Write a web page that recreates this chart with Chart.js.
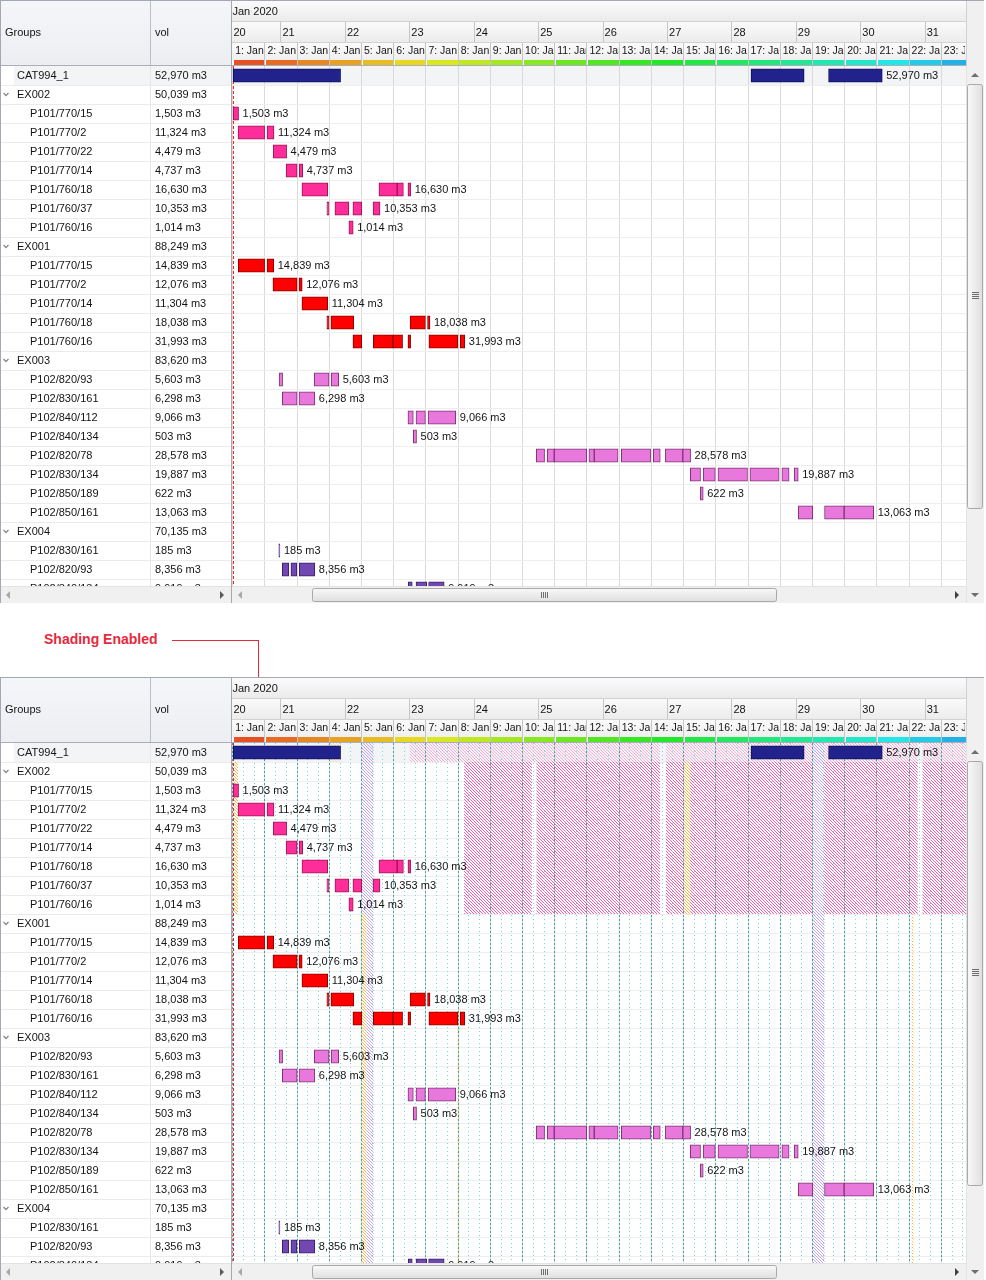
<!DOCTYPE html>
<html>
<head>
<meta charset="utf-8">
<script src="https://cdn.jsdelivr.net/npm/chart.js@4.4.1/dist/chart.umd.min.js"></script>
<style>
  body { margin: 0; background: #fff; }
  #page { position: relative; width: 986px; height: 1280px; overflow: hidden; }
  canvas { position: absolute; left: 0; }
  #note { position: absolute; left: 44px; top: 631px; font: bold 14px "Liberation Sans", Arial, sans-serif; color: #e8283c; }
  .ln { position: absolute; background: #e8283c; }
</style>
</head>
<body>
<div id="page">
  <canvas id="ganttTop" width="986" height="603" style="top:0"></canvas>
  <div id="note">Shading Enabled</div>
  <div class="ln" style="left:172px; top:640px; width:87px; height:1px"></div>
  <div class="ln" style="left:258px; top:640px; width:1px; height:37px"></div>
  <canvas id="ganttBottom" width="986" height="603" style="top:677px"></canvas>
</div>
<script>
// rows of the grid (top to bottom)
const rowNames = ['CAT994_1', 'EX002', 'P101/770/15', 'P101/770/2', 'P101/770/22', 'P101/770/14',
  'P101/760/18', 'P101/760/37', 'P101/760/16', 'EX001', 'P101/770/15', 'P101/770/2', 'P101/770/14',
  'P101/760/18', 'P101/760/16', 'EX003', 'P102/820/93', 'P102/830/161', 'P102/840/112', 'P102/840/134',
  'P102/820/78', 'P102/830/134', 'P102/850/189', 'P102/850/161', 'EX004', 'P102/830/161', 'P102/820/93',
  'P102/840/134'];
const rowVolumes = [52970, 50039, 1503, 11324, 4479, 4737, 16630, 10353, 1014, 88249, 14839, 12076, 11304,
  18038, 31993, 83620, 5603, 6298, 9066, 503, 28578, 19887, 622, 13063, 70135, 185, 8356, 9919];
const groupRows = ['EX002', 'EX001', 'EX003', 'EX004'];

// time header (hours after Jan 20 00:00)
const monthLabel = 'Jan 2020';
const dayLabels = ['20', '21', '22', '23', '24', '25', '26', '27', '28', '29', '30', '31'];
const dayStarts = [0, 24, 48, 72, 96, 120, 144, 168, 192, 216, 240, 264];
const shiftLabels = ['1: Jan 20', '2: Jan 20', '3: Jan 21', '4: Jan 21', '5: Jan 22', '6: Jan 22', '7: Jan 23',
  '8: Jan 23', '9: Jan 24', '10: Jan 24', '11: Jan 25', '12: Jan 25', '13: Jan 26', '14: Jan 26', '15: Jan 27',
  '16: Jan 27', '17: Jan 28', '18: Jan 28', '19: Jan 29', '20: Jan 29', '21: Jan 30', '22: Jan 30', '23: Jan 31'];
const shiftStarts = [6, 18, 30, 42, 54, 66, 78, 90, 102, 114, 126, 138, 150, 162, 174, 186, 198, 210, 222, 234, 246, 258, 270];
const viewFrom = 5.75, viewTo = 279.2;
const nowHour = 6.3;

// bar segments: [row, fromHour, toHour]
const catSegments = [[0, 6.2, 46.2], [0, 199.1, 218.9], [0, 228.0, 248.0]];
const ex002Segments = [
  [2, 6.2, 8.2],
  [3, 8.0, 17.9], [3, 18.8, 21.4],
  [4, 21.1, 26.1],
  [5, 25.9, 30.0], [5, 30.8, 32.1],
  [6, 31.8, 41.4], [6, 60.5, 67.3], [6, 67.3, 69.6], [6, 71.3, 72.3],
  [7, 41.1, 41.9], [7, 44.1, 49.3], [7, 50.8, 54.1], [7, 58.3, 60.9],
  [8, 49.3, 50.9]
];
const ex001Segments = [
  [10, 8.1, 17.9], [10, 18.8, 21.3],
  [11, 21.0, 30.0], [11, 30.7, 31.9],
  [12, 31.8, 41.4],
  [13, 41.1, 41.9], [13, 42.6, 51.1], [13, 72.1, 77.8], [13, 78.6, 79.5],
  [14, 50.8, 54.1], [14, 58.4, 65.7], [14, 65.7, 69.3], [14, 71.3, 72.3], [14, 79.1, 89.9], [14, 90.8, 92.5]
];
const ex003Segments = [
  [16, 23.3, 24.6], [16, 36.4, 41.9], [16, 42.7, 45.5],
  [17, 24.5, 30.0], [17, 30.7, 36.6],
  [18, 71.3, 73.3], [18, 74.3, 77.8], [18, 78.8, 89.1],
  [19, 73.3, 74.5],
  [20, 119.1, 122.2], [20, 123.2, 125.8], [20, 125.8, 137.9], [20, 138.7, 140.7], [20, 140.7, 149.6],
  [20, 150.8, 161.7], [20, 162.7, 165.3], [20, 167.2, 173.7], [20, 173.7, 176.6],
  [21, 176.5, 180.3], [21, 181.3, 185.8], [21, 186.8, 197.8], [21, 198.7, 209.6], [21, 210.6, 213.3], [21, 215.2, 216.7],
  [22, 180.2, 181.3],
  [23, 216.7, 222.1], [23, 226.5, 233.8], [23, 233.8, 244.8]
];
const ex004Segments = [
  [25, 23.2, 23.6],
  [26, 24.5, 26.9], [26, 27.7, 29.9], [26, 30.8, 36.6],
  [27, 71.4, 72.9], [27, 74.3, 78.3], [27, 79.0, 84.8]
];

// shading (lower chart): [fromHour, toHour, firstRow, lastRow]
const offTime = [
  [71.9, 165.2, 0, 0], [167.4, 222.1, 0, 0], [226.0, 261.2, 0, 0], [263.0, 280, 0, 0],
  [92.2, 117.5, 1, 8], [119.2, 165.2, 1, 8], [167.4, 174.1, 1, 8], [176.4, 222.1, 1, 8],
  [226.0, 261.2, 1, 8], [263.0, 280, 1, 8]
];
const breakTime = [[53.9, 58.5, 0, 8], [55.8, 58.5, 9, 27], [222.1, 226.5, 0, 27]];
const overTime = [[6.4, 8.0, 1, 8], [41.6, 46.4, 0, 0], [53.9, 55.8, 9, 27], [174.1, 176.4, 1, 8],
  [89.8, 90.4, 14, 27], [259.0, 259.6, 9, 27]];

const FONT = '11px "Liberation Sans", Arial, sans-serif';
const SMALL = '10.5px "Liberation Sans", Arial, sans-serif';
const fmtVol = v => v.toLocaleString('en-US') + ' m3';
const toPoints = segs => segs.map(([row, from, to]) => ({ y: row, x: [from, to] }));

function hline(ctx, x0, x1, y, c) { ctx.strokeStyle = c; ctx.beginPath(); ctx.moveTo(x0, y); ctx.lineTo(x1, y); ctx.stroke(); }
function vline(ctx, x, y0, y1, c) { ctx.strokeStyle = c; ctx.beginPath(); ctx.moveTo(x, y0); ctx.lineTo(x, y1); ctx.stroke(); }
const al = p => Math.round(p - 0.5) + 0.5;

function hatch(color) {
  const c = document.createElement('canvas');
  c.width = 3; c.height = 3;
  const g = c.getContext('2d');
  g.fillStyle = color;
  for (let i = 0; i < 3; i++) g.fillRect(i, i, 1, 1);
  return c;
}

function band(ctx, x0, x1, y0, y1, c0, c1) {
  const g = ctx.createLinearGradient(0, y0, 0, y1);
  g.addColorStop(0, c0); g.addColorStop(1, c1);
  ctx.fillStyle = g;
  ctx.fillRect(x0, y0, x1 - x0, y1 - y0);
}

function arrow(ctx, cx, cy, dir, color) {
  ctx.fillStyle = color;
  ctx.beginPath();
  if (dir === 'left') { ctx.moveTo(cx + 2, cy - 4); ctx.lineTo(cx + 2, cy + 4); ctx.lineTo(cx - 2, cy); }
  if (dir === 'right') { ctx.moveTo(cx - 2, cy - 4); ctx.lineTo(cx - 2, cy + 4); ctx.lineTo(cx + 2, cy); }
  if (dir === 'up') { ctx.moveTo(cx - 4, cy + 2); ctx.lineTo(cx + 4, cy + 2); ctx.lineTo(cx, cy - 2); }
  if (dir === 'down') { ctx.moveTo(cx - 4, cy - 2); ctx.lineTo(cx + 4, cy - 2); ctx.lineTo(cx, cy + 2); }
  ctx.closePath();
  ctx.fill();
}

function drawLeftGrid(chart) {
  const { ctx, scales: { y }, chartArea: a } = chart;
  ctx.save();
  ctx.beginPath(); ctx.rect(0, a.top, 231, chart.height - a.top); ctx.clip();
  ctx.lineWidth = 1;
  vline(ctx, 150.5, a.top, chart.height, '#e6e6e6');
  ctx.font = FONT;
  ctx.textBaseline = 'middle';
  rowNames.forEach((name, i) => {
    const cy = y.getPixelForValue(i) + 0.5;
    hline(ctx, 0, 231, al(y.getPixelForValue(i + 0.5)), '#ebebeb');
    const isGroup = groupRows.includes(name);
    if (isGroup) {
      ctx.strokeStyle = '#8a8a8a';
      ctx.lineWidth = 1.3;
      ctx.beginPath(); ctx.moveTo(3.5, cy - 2); ctx.lineTo(6, cy + 0.5); ctx.lineTo(8.5, cy - 2); ctx.stroke();
      ctx.lineWidth = 1;
    }
    ctx.fillStyle = '#141414';
    ctx.fillText(name, (i === 0 || isGroup) ? 17 : 30, cy);
    ctx.fillText(fmtVol(rowVolumes[i]), 155, cy);
  });
  ctx.restore();
}

function drawHeader(chart) {
  const { ctx, scales: { x }, chartArea: a } = chart;
  const L = a.left, R = a.right;
  ctx.save();
  ctx.lineWidth = 1;
  // grid header
  band(ctx, 0, L, 0, 65, '#f5f6f9', '#eceef2');
  ctx.font = FONT; ctx.textBaseline = 'middle'; ctx.fillStyle = '#141414';
  ctx.fillText('Groups', 5, 33);
  ctx.fillText('vol', 155, 33);
  vline(ctx, 150.5, 0, 65, '#b9bec8');
  // time header rows
  band(ctx, L, R, 1, 21, '#fbfbfb', '#ebebeb');
  band(ctx, L, R, 22, 42, '#fafafa', '#ececec');
  band(ctx, L, R, 43, 60, '#fbfbfb', '#efefef');
  hline(ctx, L, R, 21.5, '#d2d2d2');
  hline(ctx, L, R, 42.5, '#d2d2d2');
  ctx.fillStyle = '#141414';
  ctx.fillText(monthLabel, L + 0.5, 11.5);
  const cellText = (txt, x0, x1, y0, y1, pad) => {
    ctx.save();
    ctx.beginPath(); ctx.rect(Math.max(x0, L), y0, Math.min(x1, R) - Math.max(x0, L) - 1, y1 - y0); ctx.clip();
    ctx.fillText(txt, Math.max(x0, L) + pad, (y0 + y1) / 2 + 0.5);
    ctx.restore();
  };
  dayStarts.forEach((d, i) => {
    const x0 = x.getPixelForValue(d), x1 = x.getPixelForValue(d + 24);
    if (x0 >= L) vline(ctx, al(x0), 22, 42, '#c6c6c6');
    cellText(dayLabels[i], x0, x1, 22, 42, 1.5);
  });
  ctx.font = SMALL;
  shiftStarts.forEach((s, i) => {
    const x0 = x.getPixelForValue(s), x1 = x.getPixelForValue(s + 12);
    ctx.fillStyle = `hsl(${14 + i * 8.3}, 80%, 52%)`;
    ctx.fillRect(Math.round(x0) + 1, 60, Math.min(Math.round(x1), R) - Math.round(x0) - 1, 5);
    ctx.fillStyle = '#141414';
    if (x0 > L + 1) vline(ctx, al(x0), 43, 65, '#c6c6c6');
    cellText(shiftLabels[i], x0, x1, 43, 59, 2.5);
  });
  hline(ctx, 0, R, 65.5, '#a9aeb8');
  // right corner above the vertical scrollbar
  ctx.fillStyle = '#f0f0f0';
  ctx.fillRect(R, 1, 18, 65);
  vline(ctx, R + 0.5, 0, 66, '#d0d0d0');
  ctx.restore();
}

function drawScrollbars(chart) {
  const { ctx, chartArea: a } = chart;
  const R = a.right, H = chart.height;
  ctx.save();
  ctx.lineWidth = 1;
  // horizontal bar
  ctx.fillStyle = '#f0f0f0';
  ctx.fillRect(0, 587, R, 16);
  hline(ctx, 0, R, 586.5, '#e2e2e2');
  arrow(ctx, 8, 595, 'left', '#a8a8a8');
  arrow(ctx, 222, 595, 'right', '#5a5a5a');
  arrow(ctx, 240, 595, 'left', '#a8a8a8');
  arrow(ctx, 957, 595, 'right', '#404040');
  let g = ctx.createLinearGradient(0, 588, 0, 602);
  g.addColorStop(0, '#fafafa'); g.addColorStop(1, '#dedede');
  ctx.fillStyle = g; ctx.strokeStyle = '#a9a9a9';
  ctx.beginPath(); ctx.roundRect(312.5, 588.5, 464, 13, 2); ctx.fill(); ctx.stroke();
  [541.5, 543.5, 545.5, 547.5].forEach(px => vline(ctx, px, 592, 598, '#6e6e6e'));
  // vertical bar
  ctx.fillStyle = '#f0f0f0';
  ctx.fillRect(R, 66, 18, H - 66);
  vline(ctx, R + 0.5, 66, H, '#e2e2e2');
  arrow(ctx, R + 9, 75, 'up', '#6e6e6e');
  arrow(ctx, R + 9, 595, 'down', '#6e6e6e');
  g = ctx.createLinearGradient(R + 1, 0, R + 17, 0);
  g.addColorStop(0, '#fafafa'); g.addColorStop(1, '#dedede');
  ctx.fillStyle = g; ctx.strokeStyle = '#a9a9a9';
  ctx.beginPath(); ctx.roundRect(R + 1.5, 84.5, 15, 424, 2); ctx.fill(); ctx.stroke();
  [292.5, 294.5, 296.5, 298.5].forEach(py => hline(ctx, R + 6, R + 13, py, '#6e6e6e'));
  // splitter and outer border
  vline(ctx, 231.5, 0, H, '#a3a8b2');
  hline(ctx, 0, R + 18, 0.5, '#a3a8b2');
  vline(ctx, 0.5, 0, H, '#a3a8b2');
  ctx.restore();
}

const ganttPlugin = {
  id: 'gantt',
  beforeDraw(chart) {
    const { ctx, scales: { y }, chartArea: a } = chart;
    ctx.save();
    ctx.fillStyle = '#fff';
    ctx.fillRect(0, 0, chart.width, chart.height);
    const t = y.getPixelForValue(-0.5), b = y.getPixelForValue(0.5);
    ctx.fillStyle = '#f3f4f6';
    ctx.fillRect(14, t, a.right - 14, b - t);
    ctx.restore();
  },
  beforeDatasetsDraw(chart, args, opts) {
    const { ctx, scales: { x, y }, chartArea: a } = chart;
    ctx.save();
    ctx.beginPath(); ctx.rect(a.left, a.top, a.right - a.left, a.bottom - a.top); ctx.clip();
    if (opts.shaded) {
      const zone = (list, pat) => list.forEach(([f, t, r0, r1]) => {
        const x0 = x.getPixelForValue(f), x1 = x.getPixelForValue(t);
        const y0 = y.getPixelForValue(r0 - 0.5), y1 = y.getPixelForValue(r1 + 0.5);
        ctx.globalAlpha = r0 === 0 && r1 === 0 ? 0.45 : 1;
        ctx.fillStyle = ctx.createPattern(pat, 'repeat');
        ctx.fillRect(x0, y0, x1 - x0, y1 - y0);
      });
      zone(offTime, hatch('#ff5aa8'));
      zone(breakTime, hatch('#c4a4f2'));
      zone(overTime, hatch('#ffb83c'));
      ctx.globalAlpha = 1;
      for (let h = 6; h < viewTo; h += 4) {
        const px = al(x.getPixelForValue(h));
        const onShift = (h - 6) % 12 === 0;
        ctx.setLineDash(onShift ? [2, 2] : [1, 3]);
        vline(ctx, px, a.top, a.bottom, onShift ? '#3aa9a9' : '#6fdcdc');
      }
    }
    ctx.setLineDash([3, 2]);
    vline(ctx, al(x.getPixelForValue(nowHour)), a.top, a.bottom, '#ff1e1e');
    ctx.restore();
  },
  afterDatasetsDraw(chart) {
    const { ctx, scales: { x, y }, chartArea: a } = chart;
    const ends = {};
    chart.data.datasets.forEach(ds => ds.data.forEach(p => {
      ends[p.y] = Math.max(ends[p.y] ?? -Infinity, p.x[1]);
    }));
    ctx.save();
    ctx.beginPath(); ctx.rect(a.left, a.top, a.right - a.left, a.bottom - a.top); ctx.clip();
    ctx.font = FONT; ctx.textBaseline = 'middle'; ctx.fillStyle = '#141414';
    Object.keys(ends).forEach(r => {
      ctx.fillText(fmtVol(rowVolumes[r]), x.getPixelForValue(ends[r]) + 4, y.getPixelForValue(+r) + 0.5);
    });
    ctx.restore();
  },
  afterDraw(chart) {
    drawLeftGrid(chart);
    drawHeader(chart);
    drawScrollbars(chart);
  }
};

function makeGantt(id, shaded) {
  return new Chart(document.getElementById(id), {
    type: 'bar',
    data: {
      datasets: [
        { label: 'CAT994_1', data: toPoints(catSegments), backgroundColor: '#22228c', borderColor: '#10105c' },
        { label: 'EX002', data: toPoints(ex002Segments), backgroundColor: '#ff2d9a', borderColor: '#9a1556' },
        { label: 'EX001', data: toPoints(ex001Segments), backgroundColor: '#ff0000', borderColor: '#8a0000' },
        { label: 'EX003', data: toPoints(ex003Segments), backgroundColor: '#e878dc', borderColor: '#7e3476' },
        { label: 'EX004', data: toPoints(ex004Segments), backgroundColor: '#7148b2', borderColor: '#38206c' }
      ]
    },
    options: {
      indexAxis: 'y',
      responsive: false,
      animation: false,
      events: [],
      layout: { padding: { left: 232, top: 66, right: 20, bottom: 5 }, autoPadding: false },
      datasets: { bar: { barThickness: 13.5, grouped: false, borderWidth: 1, borderSkipped: false } },
      scales: {
        x: {
          type: 'linear', position: 'top', min: viewFrom, max: viewTo, offset: false,
          ticks: { display: false }, border: { display: false },
          grid: { color: '#dadada', drawTicks: false, offset: false },
          afterBuildTicks: s => { s.ticks = shiftStarts.map(v => ({ value: v })); },
          afterFit: s => { s.height = 0; }
        },
        y: {
          type: 'linear', reverse: true, min: -0.5, max: rowNames.length - 0.5, offset: false,
          ticks: { display: false }, border: { display: false },
          grid: { color: '#eeeeee', drawTicks: false, offset: false },
          afterBuildTicks: s => { s.ticks = rowNames.map((_, i) => ({ value: i + 0.5 })); },
          afterFit: s => { s.width = 0; }
        }
      },
      plugins: { legend: { display: false }, tooltip: { enabled: false }, gantt: { shaded } }
    },
    plugins: [ganttPlugin]
  });
}

makeGantt('ganttTop', false);
makeGantt('ganttBottom', true);
</script>
</body>
</html>
